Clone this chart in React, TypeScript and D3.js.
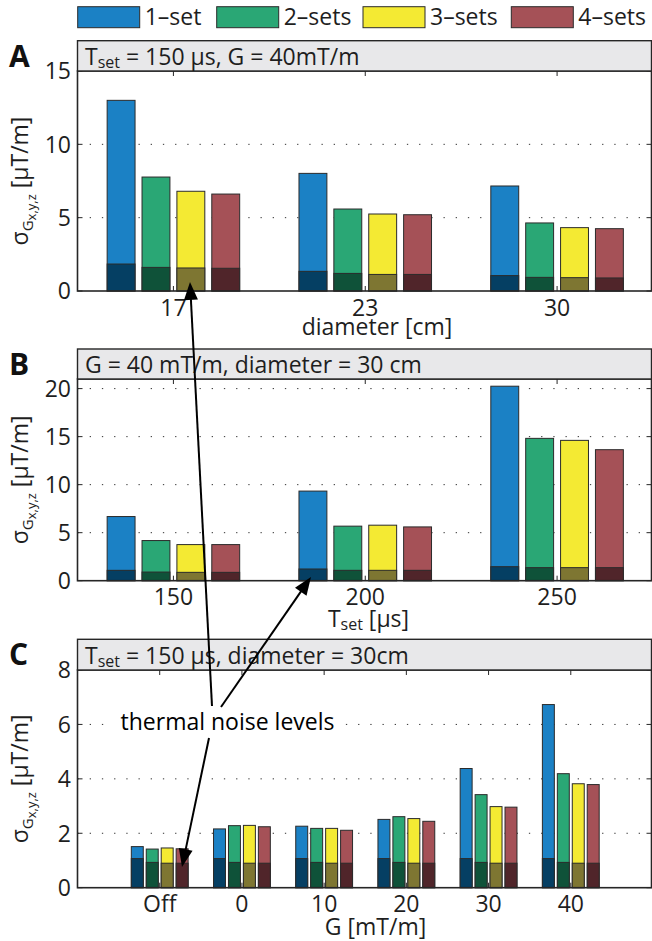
import React from "react";
import * as d3 from "d3";

// ---------- data ----------
const seriesNames = ["1\u2013set", "2\u2013sets", "3\u2013sets", "4\u2013sets"];
const seriesColors = ["#1b81c5", "#2aa775", "#f4ea33", "#a55157"];
const noiseColors = ["#053f63", "#0f5239", "#7e7632", "#50252a"];

const catsA = ["17", "23", "30"];
const totalA = [
  [13.0, 7.77, 6.8, 6.61],
  [8.02, 5.59, 5.25, 5.2],
  [7.16, 4.64, 4.32, 4.25],
];
const noiseA = [
  [1.84, 1.61, 1.57, 1.55],
  [1.34, 1.2, 1.13, 1.13],
  [1.05, 0.93, 0.91, 0.89],
];
const ticksA = [0, 5, 10, 15];

const catsB = ["150", "200", "250"];
const totalB = [
  [6.68, 4.18, 3.76, 3.76],
  [9.33, 5.68, 5.78, 5.6],
  [20.25, 14.82, 14.61, 13.64],
];
const noiseB = [
  [1.08, 0.9, 0.87, 0.87],
  [1.22, 1.08, 1.08, 1.08],
  [1.46, 1.36, 1.36, 1.36],
];
const ticksB = [0, 5, 10, 15, 20];

const catsC = ["Off", "0", "10", "20", "30", "40"];
const totalC = [
  [1.51, 1.42, 1.46, 1.43],
  [2.16, 2.28, 2.29, 2.24],
  [2.26, 2.18, 2.18, 2.11],
  [2.51, 2.61, 2.54, 2.44],
  [4.38, 3.42, 2.98, 2.96],
  [6.73, 4.19, 3.82, 3.79],
];
const noiseC = [
  [1.07, 0.93, 0.9, 0.9],
  [1.07, 0.93, 0.9, 0.9],
  [1.07, 0.93, 0.9, 0.9],
  [1.07, 0.93, 0.9, 0.9],
  [1.07, 0.93, 0.9, 0.9],
  [1.07, 0.93, 0.9, 0.9],
];
const ticksC = [0, 2, 4, 6, 8];

// ---------- styling ----------
const FONT = "'Open Sans', 'Noto Sans', sans-serif";
const INK = "#1e1e1e";
const AXIS = "#262626";
const LEFT = 77.5;
const RIGHT = 651.5;

type PanelProps = {
  letter: string;
  headerTop: number;
  top: number;
  bottom: number;
  cats: string[];
  totals: number[][];
  noise: number[][];
  ticks: number[];
  yMax: number;
  xDomain: [number, number];
  header: React.ReactNode;
  xlabel: React.ReactNode;
  xlabelX: number;
  xlabelY: number;
};

function Panel(p: PanelProps) {
  const x = d3.scaleLinear().domain(p.xDomain).range([LEFT, 653]);
  const y = d3.scaleLinear().domain([0, p.yMax]).range([p.bottom, p.top]);
  const step = x(1) - x(0);
  const groupW = Math.min(0.8, 4 / 5.5);
  const barSpacing = groupW / 4;
  const barW = barSpacing * 0.8;
  const catPos = p.cats.map((_, i) => i + 1);
  const cy = (p.top + p.bottom) / 2;
  return (
    <g>
      {/* grid */}
      {p.ticks
        .filter((t) => t > 0 && t < p.yMax)
        .map((t) => (
          <line
            key={"g" + t}
            x1={LEFT}
            x2={RIGHT}
            y1={y(t)}
            y2={y(t)}
            stroke="#333"
            strokeWidth={1}
            strokeDasharray="1.3 10.9"
          />
        ))}
      {/* bars */}
      {p.totals.map((grp, gi) =>
        grp.map((v, si) => {
          const cx = catPos[gi] + (si - 1.5) * barSpacing;
          const x0 = x(cx - barW / 2);
          const w = barW * step;
          return (
            <g key={gi + "-" + si}>
              <rect
                x={x0}
                y={y(v)}
                width={w}
                height={y(0) - y(v)}
                fill={seriesColors[si]}
                stroke="#2b2b2b"
                strokeWidth={1}
              />
              <rect
                x={x0}
                y={y(p.noise[gi][si])}
                width={w}
                height={y(0) - y(p.noise[gi][si])}
                fill={noiseColors[si]}
                stroke="#2b2b2b"
                strokeWidth={1}
              />
            </g>
          );
        })
      )}
      {/* ticks */}
      {p.ticks.map((t) => (
        <g key={"yt" + t}>
          <line x1={LEFT} x2={LEFT + 5} y1={y(t)} y2={y(t)} stroke={AXIS} strokeWidth={1} />
          <line x1={RIGHT} x2={RIGHT - 5} y1={y(t)} y2={y(t)} stroke={AXIS} strokeWidth={1} />
          <text
            x={71}
            y={y(t)}
            dy="0.36em"
            textAnchor="end"
            fontSize={23}
            fill={INK}
          >
            {t}
          </text>
        </g>
      ))}
      {catPos.map((c, i) => (
        <g key={"xt" + i}>
          <line x1={x(c)} x2={x(c)} y1={p.bottom} y2={p.bottom - 5} stroke={AXIS} strokeWidth={1} />
          <line x1={x(c)} x2={x(c)} y1={p.top} y2={p.top + 5} stroke={AXIS} strokeWidth={1} />
          <text x={x(c)} y={p.bottom + 24.5} textAnchor="middle" fontSize={23} fill={INK}>
            {p.cats[i]}
          </text>
        </g>
      ))}
      {/* frame */}
      <rect
        x={LEFT}
        y={p.top}
        width={RIGHT - LEFT}
        height={p.bottom - p.top}
        fill="none"
        stroke={AXIS}
        strokeWidth={1.6}
      />
      {/* header */}
      <rect
        x={LEFT}
        y={p.headerTop}
        width={RIGHT - LEFT}
        height={p.top - p.headerTop}
        fill="#e8e8ea"
        stroke={AXIS}
        strokeWidth={1.4}
      />
      <text x={85} y={p.headerTop + 24.3} fontSize={23} fill={INK}>
        {p.header}
      </text>
      {/* panel letter */}
      <text x={9} y={p.headerTop + 26} fontSize={30} fontWeight="bold" fill="#111">
        {p.letter}
      </text>
      {/* y label */}
      <text
        transform={`translate(28,${cy}) rotate(-90)`}
        textAnchor="middle"
        fontSize={23}
        fill={INK}
      >
        <tspan>σ</tspan>
        <tspan fontSize={15} dy={5}>G</tspan>
        <tspan fontSize={13} dy={3}>x,y,z</tspan>
        <tspan fontSize={23} dy={-8}>{" [µT/m]"}</tspan>
      </text>
      {/* x label */}
      <text x={p.xlabelX} y={p.xlabelY} textAnchor="middle" fontSize={23} fill={INK}>
        {p.xlabel}
      </text>
    </g>
  );
}

function Arrow({ x1, y1, x2, y2 }: { x1: number; y1: number; x2: number; y2: number }) {
  const dx = x2 - x1;
  const dy = y2 - y1;
  const len = Math.hypot(dx, dy);
  const ux = dx / len;
  const uy = dy / len;
  const hl = 18;
  const hw = 7;
  const bx = x2 - ux * hl;
  const by = y2 - uy * hl;
  const pts = [
    [x2, y2],
    [bx - uy * hw, by + ux * hw],
    [bx + uy * hw, by - ux * hw],
  ]
    .map((q) => q.join(","))
    .join(" ");
  return (
    <g>
      <line x1={x1} y1={y1} x2={bx + ux * 2} y2={by + uy * 2} stroke="#000" strokeWidth={2} />
      <polygon points={pts} fill="#000" />
    </g>
  );
}

const legendX = [77.7, 216.7, 363, 511.3];

export default function App() {
  const sub = (s: string) => (
    <tspan fontSize={16} dy={3}>
      {s}
    </tspan>
  );
  return (
    <svg
      width={652}
      height={941}
      style={{ position: "absolute", left: 0, top: 0, fontFamily: FONT }}
    >
      <rect width={652} height={941} fill="#fff" />
      {/* legend */}
      {seriesNames.map((n, i) => (
        <g key={n}>
          <rect
            x={legendX[i]}
            y={6.7}
            width={62}
            height={21}
            fill={seriesColors[i]}
            stroke="#2b2b2b"
            strokeWidth={1}
          />
          <text x={legendX[i] + 67} y={25} fontSize={23} fill={INK}>
            {n}
          </text>
        </g>
      ))}
      <Panel
        letter="A"
        headerTop={40.7}
        top={71}
        bottom={291}
        cats={catsA}
        totals={totalA}
        noise={noiseA}
        ticks={ticksA}
        yMax={15}
        xDomain={[0.5, 3.5]}
        header={
          <>
            <tspan>T</tspan>
            {sub("set")}
            <tspan dy={-3}>{" = 150 µs, G = 40mT/m"}</tspan>
          </>
        }
        xlabel="diameter [cm]"
        xlabelX={377}
        xlabelY={335}
      />
      <Panel
        letter="B"
        headerTop={349}
        top={379}
        bottom={580.7}
        cats={catsB}
        totals={totalB}
        noise={noiseB}
        ticks={ticksB}
        yMax={21}
        xDomain={[0.5, 3.5]}
        header={<tspan>{"G = 40 mT/m, diameter = 30 cm"}</tspan>}
        xlabel={
          <>
            <tspan>T</tspan>
            {sub("set")}
            <tspan dy={-3}>{" [µs]"}</tspan>
          </>
        }
        xlabelX={368.5}
        xlabelY={626.5}
      />
      <Panel
        letter="C"
        headerTop={639.3}
        top={670}
        bottom={887.7}
        cats={catsC}
        totals={totalC}
        noise={noiseC}
        ticks={ticksC}
        yMax={8}
        xDomain={[0, 7]}
        header={
          <>
            <tspan>T</tspan>
            {sub("set")}
            <tspan dy={-3}>{" = 150 µs, diameter = 30cm"}</tspan>
          </>
        }
        xlabel="G [mT/m]"
        xlabelX={375.5}
        xlabelY={935}
      />
      {/* annotation */}
      <rect x={114} y={707} width={228} height={30} fill="#fff" />
      <text x={227.5} y={730} textAnchor="middle" fontSize={23} fill="#000">
        thermal noise levels
      </text>
      <Arrow x1={212} y1={706} x2={190} y2={282} />
      <Arrow x1={221} y1={707} x2={311} y2={577} />
      <Arrow x1={209} y1={738} x2={182} y2={867} />
    </svg>
  );
}
